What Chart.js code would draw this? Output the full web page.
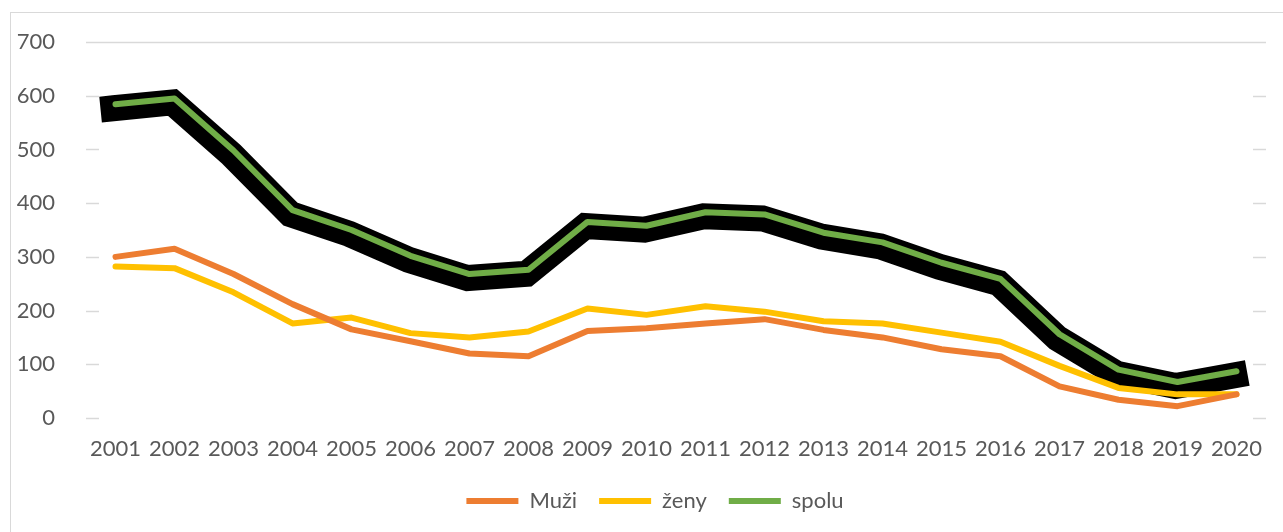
<!DOCTYPE html>
<html>
<head>
<meta charset="utf-8">
<script src="https://cdn.jsdelivr.net/npm/chart.js@4/dist/chart.umd.min.js"></script>
<style>
  html, body { margin: 0; padding: 0; background: #fff; overflow: hidden; }
  #frame { position: absolute; left: 10px; top: 12px; width: 1300px; height: 540px; border: 1.5px solid #d9d9d9; }
  #wrap { position: absolute; left: 0; top: 0; width: 1283px; height: 532px; }
</style>
</head>
<body>
<div id="frame"></div>
<div id="wrap"><canvas id="chart"></canvas></div>
<script>
const YEARS = ["2001", "2002", "2003", "2004", "2005", "2006", "2007", "2008", "2009", "2010",
  "2011", "2012", "2013", "2014", "2015", "2016", "2017", "2018", "2019", "2020"];
const MUZI = [300, 315, 268, 212, 165, 143, 120, 115, 162, 167, 176, 184, 164, 150, 128, 115, 59, 34, 22, 44];
const ZENY = [282, 279, 234, 176, 187, 158, 150, 161, 204, 192, 208, 198, 180, 176, 159, 142, 97, 56, 44, 44];
const SPOLU = [584, 595, 498, 387, 350, 302, 268, 276, 365, 358, 383, 379, 345, 327, 289, 259, 156, 90, 67, 87];

const TEXT = "#595959";
const GRID = "#d9d9d9";
const FONT = { family: "Lato", size: 22 };

// short grid stubs at both ends, full line only at the top value
const gridStubs = {
  id: "gridStubs",
  beforeDatasetsDraw(chart) {
    const { ctx, chartArea } = chart;
    const y = chart.scales.y;
    ctx.save();
    ctx.strokeStyle = GRID;
    ctx.lineWidth = 1.5;
    for (const t of y.ticks) {
      const py = Math.round(y.getPixelForValue(t.value)) + 0.5;
      ctx.beginPath();
      if (t.value === y.max) {
        ctx.moveTo(chartArea.left, py);
        ctx.lineTo(chartArea.right, py);
      } else {
        ctx.moveTo(chartArea.left, py);
        ctx.lineTo(chartArea.left + 13, py);
        ctx.moveTo(chartArea.right - 13, py);
        ctx.lineTo(chartArea.right, py);
      }
      ctx.stroke();
    }
    ctx.restore();
  }
};

// the black shadow under "spolu" sits a bit lower-left of the line
const shadowShift = {
  id: "shadowShift",
  beforeDatasetDraw(chart, args) {
    if (args.meta._dataset.isShadow) {
      chart.ctx.save();
      chart.ctx.translate(-2, 4);
    }
  },
  afterDatasetDraw(chart, args) {
    if (args.meta._dataset.isShadow) chart.ctx.restore();
  }
};

// legend in the original is centred on the outer frame, not the canvas
const legendShift = {
  id: "legendShift",
  afterLayout(chart) {
    chart.legend.left += 22;
    chart.legend.right += 22;
  }
};

const line = (label, data, color, order) => ({
  label: label,
  data: data,
  borderColor: color,
  backgroundColor: color,
  borderWidth: 6,
  borderCapStyle: "round",
  borderJoinStyle: "round",
  pointRadius: 0,
  tension: 0,
  fill: false,
  order: order
});

const shadow = {
  label: "shadow",
  isShadow: true,
  data: SPOLU,
  borderColor: "#000",
  backgroundColor: "#000",
  borderWidth: 26,
  borderCapStyle: "square",
  borderJoinStyle: "miter",
  pointRadius: 0,
  tension: 0,
  fill: false,
  clip: false,
  order: 4
};

new Chart(document.getElementById("chart"), {
  type: "line",
  data: {
    labels: YEARS,
    datasets: [
      line("Muži", MUZI, "#ED7D31", 1),
      line("ženy", ZENY, "#FFC000", 2),
      line("spolu", SPOLU, "#70AD47", 3),
      shadow
    ]
  },
  options: {
    responsive: true,
    maintainAspectRatio: false,
    animation: false,
    layout: { padding: { left: 0, right: 17, top: 42, bottom: 10 } },
    scales: {
      x: {
        offset: true,
        grid: { display: false },
        border: { display: false },
        ticks: { color: TEXT, font: FONT, padding: 10, maxRotation: 0, autoSkip: false },
        afterFit(scale) { scale.height = 50; }
      },
      y: {
        min: 0,
        max: 700,
        grid: { display: false },
        border: { display: false },
        ticks: { stepSize: 100, color: TEXT, font: FONT, padding: 23 },
        afterFit(scale) { scale.width = 86; }
      }
    },
    plugins: {
      legend: {
        position: "bottom",
        labels: {
          usePointStyle: true,
          pointStyle: "line",
          pointStyleWidth: 52,
          padding: 22,
          color: TEXT,
          font: FONT,
          filter: (item, data) => !data.datasets[item.datasetIndex].isShadow
        }
      },
      tooltip: { enabled: false }
    }
  },
  plugins: [gridStubs, shadowShift, legendShift]
});
</script>
</body>
</html>
